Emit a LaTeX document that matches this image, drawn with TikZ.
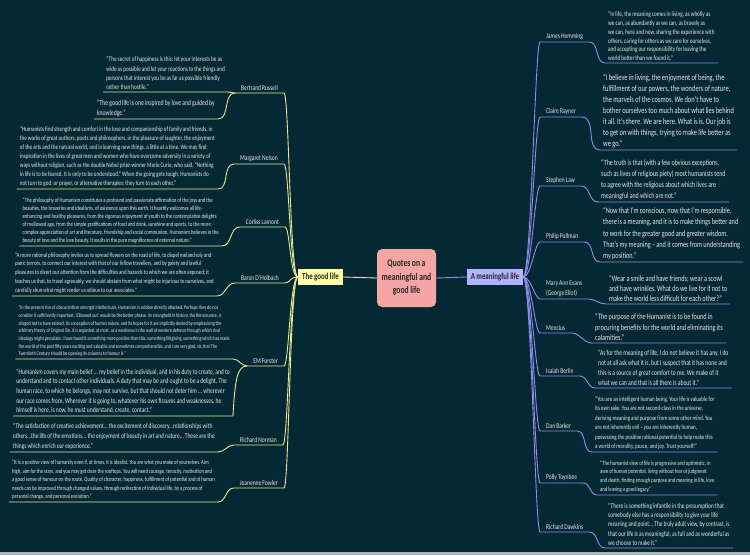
\documentclass[tikz,border=0pt]{standalone}
\usepackage{fontspec}
\setmainfont{Carlito}[FakeStretch=0.75, WordSpace=0.9]
\frenchspacing
\usetikzlibrary{positioning}
\definecolor{bg}{RGB}{5,41,52}
\definecolor{strip}{RGB}{168,182,188}
\definecolor{goodcol}{RGB}{232,232,145}
\definecolor{meancol}{RGB}{140,142,235}
\definecolor{txt}{RGB}{228,232,232}
\definecolor{rootfill}{RGB}{246,164,164}
\definecolor{goodfill}{RGB}{255,255,170}
\definecolor{meanfill}{RGB}{178,178,255}

\begin{document}
\begin{tikzpicture}
	[x=1pt, y=-1pt,
	good/.style = {draw=goodcol, line width=0.9pt},
	mean/.style = {draw=meancol, line width=0.9pt},
	root/.style = {fill=rootfill, rounded corners=5pt, minimum width=59pt, minimum height=58pt, align=center, text=black!85, font=\bfseries\fontsize{10.2}{13.5}\selectfont},
	topic/.style = {fill=#1, minimum height=16pt, inner xsep=3pt, text=black!85, font=\bfseries\fontsize{9.2}{10}\selectfont},
	person/.style = {text=txt, align=left, inner xsep=6pt, inner ysep=2pt, font=\fontsize{7.4}{10}\selectfont},
	qt/.style 2 args = {text=txt, align=left, inner xsep=3pt, inner ysep=2pt, font=\fontsize{#1}{#2}\selectfont}
	]
	\useasboundingbox (0,0) rectangle (750,555);
	\fill[bg] (0,0) rectangle (750,555);
	\fill[strip] (0,552) rectangle (750,555);

	\node[root] (root) at (406.5,278) {Quotes on a\\meaningful and\\good life};
	\node[topic=goodfill, minimum width=45pt] (good) at (320.5,277) {The good life};
	\node[topic=meanfill, minimum width=56pt] (mean) at (495,277) {A meaningful life};
	\draw[good] (root.west) -- (good.east);
	\draw[mean] (root.east) -- (mean.west);

	\node[person, anchor=south east] (russell) at (284,93) {Bertrand Russell};
	\node[person, anchor=south east] (nelson) at (284,164) {Margaret Nelson};
	\node[person, anchor=south east] (lamont) at (285,227) {Corliss Lamont};
	\node[person, anchor=south east] (holbach) at (285,283) {Baron D'Holbach};
	\node[person, anchor=south east] (forster) at (284,366) {EM Forster};
	\node[person, anchor=south east] (norman) at (283,445) {Richard Norman};
	\node[person, anchor=south east] (fowler) at (284,488) {Jeanenne Fowler};

	\node[qt={7.0}{9.3}, anchor=south east] (russellA) at (228,92) {“The secret of happiness is this: let your interests be as\\wide as possible and let your reactions to the things and\\persons that interest you be as far as possible friendly\\rather than hostile.”};
	\node[qt={7.6}{10}, anchor=south east] (russellB) at (218,119) {“The good life is one inspired by love and guided by\\knowledge.”};
	\node[qt={6.85}{9}, anchor=south east] (nelsonQ) at (218,189) {“Humanists find strength and comfort in the love and companionship of family and friends, in\\the works of great authors, poets and philosophers, in the pleasure of laughter, the enjoyment\\of the arts and the natural world, and in learning new things, a little at a time. We may find\\inspiration in the lives of great men and women who have overcome adversity in a variety of\\ways without religion, such as the double Nobel prize-winner Marie Curie, who said, “Nothing\\in life is to be feared. It is only to be understood.” When the going gets tough, Humanists do\\not turn to god, or prayer, or alternative therapies; they turn to each other.”};
	\node[qt={6.3}{8}, anchor=south east] (lamontQ) at (222,246) {“The philosophy of Humanism constitutes a profound and passionate affirmation of the joys and the\\beauties, the braveries and idealisms, of existence upon this earth. It heartily welcomes all life-\\enhancing and healthy pleasures, from the vigorous enjoyment of youth to the contemplative delights\\of mellowed age, from the simple gratifications of food and drink, sunshine and sports, to the more\\complex appreciation of art and literature, friendship and social communion. Humanism believes in the\\beauty of love and the love beauty. It exults in the pure magnificence of external nature.”};
	\node[qt={6.5}{8.9}, anchor=south east] (holbachQ) at (217,296) {“A more rational philosophy invites us to spread flowers on the road of life, to dispel melancholy and\\panic terrors, to connect our interest with that of our fellow travellers, and by gaiety and lawful\\pleasures to divert our attention from the difficulties and hazards to which we are often exposed; it\\teaches us that, to travel agreeably, we should abstain from what might be injurious to ourselves, and\\carefully shun what might render us odious to our associates.”};
	\node[qt={5.6}{7.7}, anchor=south east] (forsterA) at (233,359) {“In the present rise of obscurantism amongst intellectuals, Humanism is seldom directly attacked. Perhaps they do not\\consider it sufficiently important. ‘Elbowed out’ would be the better phrase. Its stronghold in history, the Renaissance, is\\alleged not to have existed. Its conception of human nature, and its hopes for it are implicitly denied by emphasising the\\arbitrary theory of Original Sin. It is regarded, at most, as a weakness in the wall of western defence through which rival\\ideology might percolate. I have found it something more positive than this, something lifegiving, something which has made\\the world of the past fifty years exciting and valuable and sometimes comprehensible, and I am very glad, sir, that The\\Twentieth Century should be opening its columns to honour it.”};
	\node[qt={7.4}{9.7}, anchor=south east] (forsterB) at (233,416) {“Humanism covers my main belief ... my belief in the individual, and in his duty to create, and to\\understand and to contact other individuals. A duty that may be and ought to be a delight. The\\human race, to which he belongs, may not survive, but that should not deter him ... wherever\\our race comes from, Wherever it is going to, whatever his own fissures and weaknesses, he\\himself is here, is now, he must understand, create, contact.”};
	\node[qt={7.25}{10}, anchor=south east] (normanQ) at (218,452) {“The satisfaction of creative achievement... the excitement of discovery...relationships with\\others...the life of the emotions... the enjoyment of beauty in art and nature... These are the\\things which enrich our experience.”};
	\node[qt={6.25}{8.5}, anchor=south east] (fowlerQ) at (218,502) {“It is a positive view of humanity even if, at times, it is idealist. You are what you make of yourselves. Aim\\high, aim for the stars, and you may get clear the rooftops. You will need courage, tenacity, motivation and\\a good sense of humour on the route. Quality of character, happiness, fulfillment of potential and of human\\needs can be improved through changed values, through redirection of individual life, by a process of\\personal change, and personal evolution.”};

	\draw[good] (good.west) .. controls +(-8,0) and +(5,0) .. (russell.south east) -- (russell.south west) to[out=180,in=0] (russellB.south east) -- (russellB.south west);
	\draw[good] (russell.south west) -- (russellA.south east) -- (russellA.south west);
	\draw[good] (good.west) .. controls +(-8,0) and +(5,0) .. (nelson.south east) -- (nelson.south west) to[out=180,in=0] (nelsonQ.south east) -- (nelsonQ.south west);
	\draw[good] (good.west) .. controls +(-8,0) and +(5,0) .. (lamont.south east) -- (lamont.south west) to[out=180,in=0] (lamontQ.south east) -- (lamontQ.south west);
	\draw[good] (good.west) .. controls +(-8,0) and +(5,0) .. (holbach.south east) -- (holbach.south west) to[out=180,in=0] (holbachQ.south east) -- (holbachQ.south west);
	\draw[good] (good.west) .. controls +(-8,0) and +(5,0) .. (forster.south east) -- (forster.south west) to[out=180,in=0] (forsterA.south east) -- (forsterA.south west);
	\draw[good] (forster.south west) .. controls +(-9,0) and +(2,-40) .. (forsterB.south east) -- (forsterB.south west);
	\draw[good] (good.west) .. controls +(-8,0) and +(5,0) .. (norman.south east) -- (norman.south west) to[out=180,in=0] (normanQ.south east) -- (normanQ.south west);
	\draw[good] (good.west) .. controls +(-8,0) and +(5,0) .. (fowler.south east) -- (fowler.south west) to[out=180,in=0] (fowlerQ.south east) -- (fowlerQ.south west);

	\node[person, anchor=south west] (hemming) at (540,42) {James Hemming};
	\node[person, anchor=south west] (rayner) at (540,117) {Claire Rayner};
	\node[person, anchor=south west] (law) at (540,186) {Stephen Law};
	\node[person, anchor=south west] (pullman) at (540,242) {Philip Pullman};
	\node[person, anchor=south west] (evans) at (540,299) {Mary Ann Evans\\(George Eliot)};
	\node[person, anchor=south west] (mencius) at (540,333) {Mencius};
	\node[person, anchor=south west] (berlin) at (540,376) {Isaiah Berlin};
	\node[person, anchor=south west] (barker) at (540,431) {Dan Barker};
	\node[person, anchor=south west] (toynbee) at (540,483) {Polly Toynbee};
	\node[person, anchor=south west] (dawkins) at (540,532) {Richard Dawkins};

	\node[qt={6.95}{8.8}, anchor=south west] (hemmingQ) at (605,63) {“In life, the meaning comes in living, as wholly as\\we can, as abundantly as we can, as bravely as\\we can, here and now, sharing the experience with\\others, caring for others as we care for ourselves,\\and accepting our responsibility for leaving the\\world better than we found it.”};
	\node[qt={8.6}{11}, anchor=south west] (raynerQ) at (600,150) {“I believe in living, the enjoyment of being, the\\fulfillment of our powers, the wonders of nature,\\the marvels of the cosmos. We don't have to\\bother ourselves too much about what lies behind\\it all. It's there. We are here. What is is. Our job is\\to get on with things, trying to make life better as\\we go.”};
	\node[qt={7.95}{11}, anchor=south west] (lawQ) at (598,202) {“The truth is that (with a few obvious exceptions,\\such as lives of religious piety) most humanists tend\\to agree with the religious about which lives are\\meaningful and which are not.”};
	\node[qt={8.35}{11.2}, anchor=south west] (pullmanQ) at (600,262) {“Now that I'm conscious, now that I'm responsible,\\there is a meaning, and it is to make things better and\\to work for the greater good and greater wisdom.\\That's my meaning – and it comes from understanding\\my position.”};
	\node[qt={8.3}{10}, anchor=south west] (evansQ) at (606,304) {“Wear a smile and have friends; wear a scowl\\and have wrinkles. What do we live for if not to\\make the world less difficult for each other?”};
	\node[qt={8.3}{10.7}, anchor=south west] (menciusQ) at (592,343) {“The purpose of the Humanist is to be found in\\procuring benefits for the world and eliminating its\\calamities.”};
	\node[qt={7.55}{10}, anchor=south west] (berlinQ) at (595,388) {“As for the meaning of life, I do not believe it has any. I do\\not at all ask what it is, but I suspect that it has none and\\this is a source of great comfort to me. We make of it\\what we can and that is all there is about it.”};
	\node[qt={6.65}{9.5}, anchor=south west] (barkerQ) at (592,452) {“You are an intelligent human being. Your life is valuable for\\its own sake. You are not second-class in the universe,\\deriving meaning and purpose from some other mind. You\\are not inherently evil – you are inherently human,\\possessing the positive rational potential to help make this\\a world of morality, peace, and joy. Trust yourself!”};
	\node[qt={6.3}{8.9}, anchor=south west] (toynbeeQ) at (597,495) {“The humanist view of life is progressive and optimistic, in\\awe of human potential, living without fear of judgment\\and death, finding enough purpose and meaning in life, love\\and leaving a good legacy.”};
	\node[qt={7.2}{9.4}, anchor=south west] (dawkinsQ) at (605,548) {“There is something infantile in the presumption that\\somebody else has a responsibility to give your life\\meaning and point... The truly adult view, by contrast, is\\that our life is as meaningful, as full and as wonderful as\\we choose to make it.”};

	\foreach \who in {hemming,rayner,law,pullman,evans,mencius,berlin,barker,toynbee,dawkins}
		\draw[mean] (mean.east) .. controls +(8,0) and +(-5,0) .. (\who.south west) -- (\who.south east) to[out=0,in=180] (\who Q.south west) -- (\who Q.south east);
\end{tikzpicture}
\end{document}
